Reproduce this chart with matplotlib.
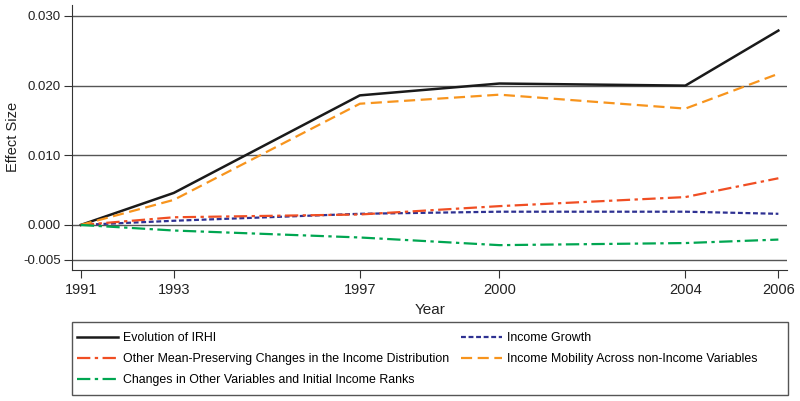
import matplotlib.pyplot as plt
from matplotlib.patches import Rectangle

plt.rcParams['font.family'] = ['Liberation Sans', 'DejaVu Sans']

years = [1991, 1993, 1997, 2000, 2004, 2006]
irhi = [0.0, 0.0046, 0.0186, 0.0203, 0.0200, 0.0279]
income_growth = [0.0, 0.0006, 0.0016, 0.0019, 0.0019, 0.0016]
other_mean = [0.0, 0.0011, 0.0015, 0.0027, 0.0040, 0.0067]
mobility = [0.0, 0.0036, 0.0174, 0.0187, 0.0167, 0.0217]
other_vars = [0.0, -0.0008, -0.0018, -0.0029, -0.0026, -0.0021]

yticks = [-0.005, 0.0, 0.010, 0.020, 0.030]
ytick_labels = ['-0.005', '0.000', '0.010', '0.020', '0.030']

fig = plt.figure(figsize=(8, 4.01), dpi=100)
ax = fig.add_axes([0.09, 0.327, 0.894, 0.661])

for y in yticks:
    ax.axhline(y, color='#555555', lw=1.0, zorder=1)

l1, = ax.plot(years, irhi, color='#1a1a1a', lw=1.8, label='Evolution of IRHI', zorder=3)
l2, = ax.plot(years, income_growth, color='#2e3192', lw=1.6, ls=(0, (2.2, 1.2)),
              label='Income Growth', zorder=3)
l3, = ax.plot(years, other_mean, color='#f04e23', lw=1.6, ls=(0, (6, 2, 1.5, 2)),
              label='Other Mean-Preserving Changes in the Income Distribution', zorder=3)
l4, = ax.plot(years, mobility, color='#f7941d', lw=1.6, ls=(0, (5, 2.5)),
              label='Income Mobility Across non-Income Variables', zorder=3)
l5, = ax.plot(years, other_vars, color='#00a651', lw=1.6, ls=(0, (6, 2, 1.5, 2)),
              label='Changes in Other Variables and Initial Income Ranks', zorder=3)

ax.set_xlim(1990.81, 2006.19)
ax.set_ylim(-0.00645, 0.0316)
ax.set_xticks(years)
ax.set_yticks(yticks)
ax.set_yticklabels(ytick_labels)
ax.tick_params(color='#333333', labelcolor='#222222', length=6)
ax.tick_params(axis='x', labelsize=10.5)
ax.tick_params(axis='y', labelsize=9.5, pad=2)
ax.set_xlabel('Year', fontsize=11, color='#222222', labelpad=4)
ax.set_ylabel('Effect Size', fontsize=10.5, color='#222222')
ax.yaxis.set_label_coords(-0.073, 0.5)
for side in ['top', 'right']:
    ax.spines[side].set_visible(False)
for side in ['left', 'bottom']:
    ax.spines[side].set_color('#333333')

# legend box drawn separately so its size matches the reference
fig.patches.append(Rectangle((72 / 800, 1 - 395 / 401), 716 / 800, 73 / 401,
                             transform=fig.transFigure, fill=False,
                             edgecolor='#555555', lw=1.0))
fig.legend(handles=[l1, l3, l5, l2, l4], ncol=2, loc='upper left',
           bbox_to_anchor=(77 / 800, 1 - 332 / 401), fontsize=8.9, frameon=False,
           handlelength=3.3, handletextpad=0.4, borderaxespad=0, borderpad=0,
           labelspacing=0.74, columnspacing=1.0)

fig.savefig('out.png', dpi=100)
